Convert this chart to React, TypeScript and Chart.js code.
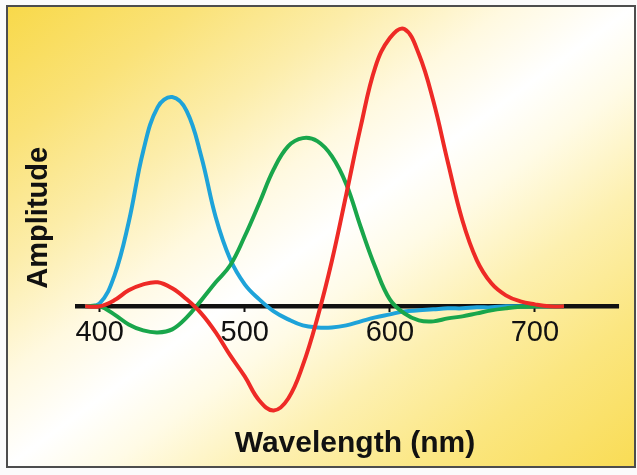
import React, { useEffect, useRef } from "react";
import { Chart, registerables } from "chart.js";

Chart.register(...registerables);

// Wavelength samples (nm)
const wavelengths = [
  390, 400, 410, 420, 430, 440, 450, 460, 470, 480, 490, 500, 510, 520, 530, 540, 550,
  560, 570, 580, 590, 600, 610, 620, 630, 640, 650, 660, 670, 680, 690, 700, 710, 720,
];

// Amplitudes (arbitrary units)
const blueValues = [
  0, 0.03, 0.3, 0.84, 1.55, 1.99, 2.09, 1.95, 1.5, 0.89, 0.47, 0.22, 0.07, -0.05, -0.13, -0.19, -0.21,
  -0.21, -0.19, -0.15, -0.11, -0.08, -0.05, -0.04, -0.03, -0.02, -0.02, -0.01, -0.01, 0, 0, 0, 0, 0,
];
const greenValues = [
  0, 0, -0.08, -0.18, -0.24, -0.26, -0.23, -0.11, 0.06, 0.24, 0.41, 0.7, 1.03, 1.37, 1.6, 1.68, 1.65,
  1.5, 1.22, 0.79, 0.39, 0.07, -0.07, -0.14, -0.15, -0.12, -0.1, -0.07, -0.04, -0.02, -0.005, 0, 0, 0,
];
const redValues = [
  0, 0, 0.06, 0.16, 0.22, 0.24, 0.18, 0.07, -0.07, -0.26, -0.49, -0.7, -0.94, -1.04, -0.92, -0.59, -0.12,
  0.45, 1.12, 1.8, 2.39, 2.68, 2.77, 2.52, 2.05, 1.44, 0.86, 0.46, 0.23, 0.11, 0.05, 0.02, 0, 0,
];

const xTickValues = [400, 500, 600, 700];
const baselineX = [383, 758];
const xRange = [383, 769];
const yRange = [-1.14, 2.91];

const SANS = "'Liberation Sans', Arial, sans-serif";

export default function App() {
  const ref = useRef<HTMLCanvasElement>(null);

  useEffect(() => {
    const mk = (vals: number[]) => wavelengths.map((x, i) => ({ x, y: vals[i] }));
    const common = {
      pointRadius: 0,
      borderWidth: 4,
      fill: false,
      tension: 0.4,
    };
    const chart = new Chart(ref.current!, {
      type: "line",
      data: {
        datasets: [
          {
            label: "Baseline",
            data: baselineX.map((x) => ({ x, y: 0 })),
            borderColor: "#111111",
            borderWidth: 4.5,
            pointRadius: 0,
            order: 10,
          },
          { label: "Blue", data: mk(blueValues), borderColor: "#1ea3d9", order: 3, ...common },
          { label: "Green", data: mk(greenValues), borderColor: "#19a64b", order: 2, ...common },
          { label: "Red", data: mk(redValues), borderColor: "#ee2a26", order: 1, ...common },
        ],
      },
      options: {
        responsive: false,
        animation: false,
        devicePixelRatio: 1,
        layout: { padding: { top: 15, right: 2, bottom: 0, left: 0 } },
        plugins: {
          legend: { display: false },
          tooltip: { enabled: false },
          title: {
            display: true,
            text: "Wavelength (nm)",
            position: "bottom",
            fullSize: false,
            color: "#111111",
            font: { family: SANS, size: 30, weight: "bold", lineHeight: 1 },
            padding: { top: 8.5, bottom: 16 },
          },
        },
        scales: {
          x: {
            type: "linear",
            position: { y: 0 },
            min: xRange[0],
            max: xRange[1],
            afterBuildTicks: (s: any) => {
              s.ticks = xTickValues.map((v) => ({ value: v }));
            },
            afterFit: (s: any) => {
              s.height = 0;
            },
            grid: {
              display: true,
              drawOnChartArea: false,
              drawTicks: true,
              tickLength: 6,
              tickWidth: 2,
              tickColor: "#111111",
            },
            border: { display: false },
            ticks: {
              color: "#111111",
              font: { family: SANS, size: 29, lineHeight: 1 },
              padding: 6,
              maxRotation: 0,
              autoSkip: false,
            },
          },
          y: {
            type: "linear",
            position: "left",
            min: yRange[0],
            max: yRange[1],
            afterFit: (s: any) => {
              s.width = 75;
            },
            grid: { display: false },
            border: { display: false },
            ticks: { display: false },
            title: {
              display: true,
              text: "Amplitude",
              color: "#111111",
              font: { family: SANS, size: 29, weight: "bold", lineHeight: 1 },
              padding: { top: 24, bottom: 0 },
            },
          },
        },
      },
    } as any);
    return () => chart.destroy();
  }, []);

  const gradient =
    "linear-gradient(to bottom right, #f8d94a 0%, #fae278 15%, #fcedaa 28%, #fff9e0 40%, #ffffff 50%, #fffbe6 58%, #fdf0b0 70%, #fbe680 84%, #f9dc55 100%)";

  return (
    <div
      style={{
        position: "fixed",
        left: 0,
        top: 0,
        width: 637,
        height: 475,
        background: "#fbfbfb",
        overflow: "hidden",
      }}
    >
      <div
        style={{
          position: "absolute",
          left: 6,
          top: 5,
          width: 630,
          height: 463,
          boxSizing: "border-box",
          border: "2px solid #4d4d4d",
          background: gradient,
        }}
      />
      <canvas
        ref={ref}
        width={637}
        height={475}
        style={{ position: "absolute", left: 0, top: 0, width: 637, height: 475 }}
      />
    </div>
  );
}
